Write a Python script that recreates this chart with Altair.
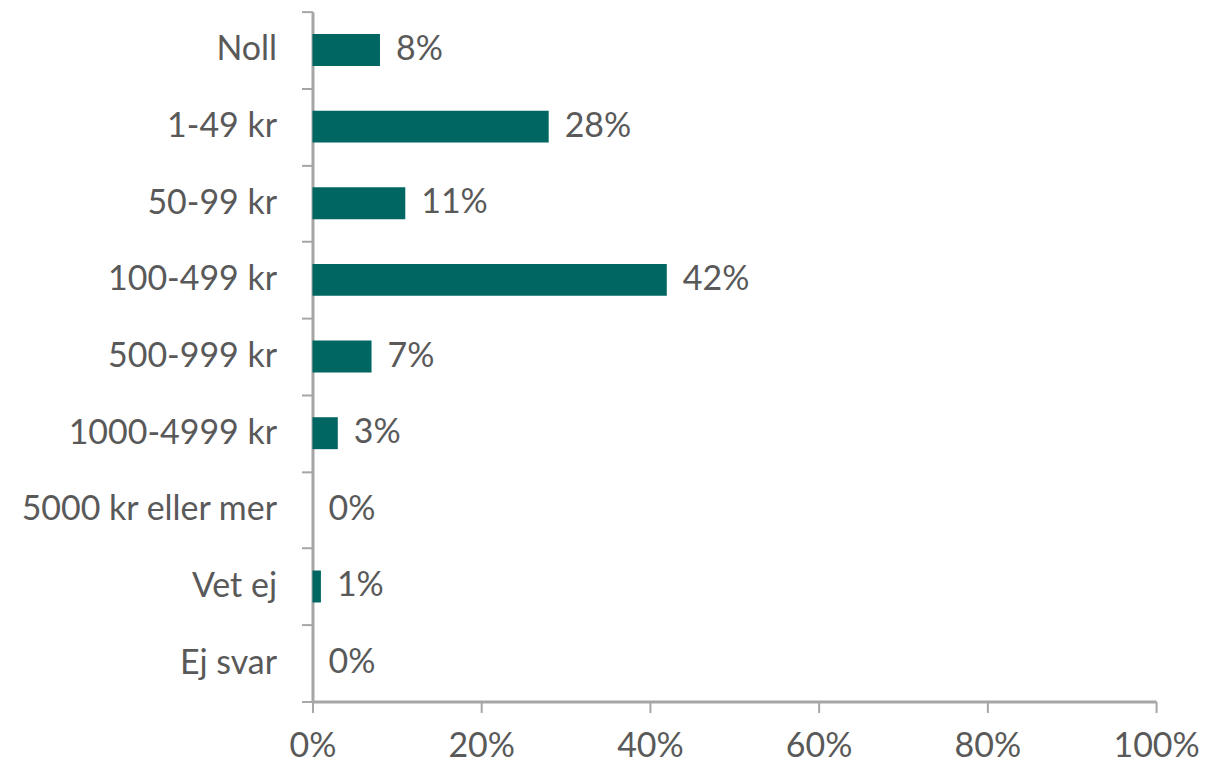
import altair as alt
import pandas as pd

categories = ["Noll", "1-49 kr", "50-99 kr", "100-499 kr", "500-999 kr",
              "1000-4999 kr", "5000 kr eller mer", "Vet ej", "Ej svar"]
values = [0.08, 0.28, 0.11, 0.42, 0.07, 0.03, 0.0, 0.01, 0.0]
labels = ["8%", "28%", "11%", "42%", "7%", "3%", "0%", "1%", "0%"]

df = pd.DataFrame({"cat": categories, "val": values, "lab": labels})

FONT = "Lato"
GREY = "#595959"
AX = "#a6a6a6"
FS = 34

y = alt.Y("cat:N", sort=categories, title=None,
          scale=alt.Scale(paddingInner=0, paddingOuter=0),
          axis=alt.Axis(tickBand="extent", labelFontSize=FS, labelFont=FONT,
                        labelColor=GREY, domainColor=AX, tickColor=AX, labelLimit=400,
                        domainWidth=3, tickWidth=2, tickSize=11, labelPadding=25))
x = alt.X("val:Q", title=None,
          scale=alt.Scale(domain=[0, 1], nice=False),
          axis=alt.Axis(format=".0%", values=[0, 0.2, 0.4, 0.6, 0.8, 1.0],
                        labelFontSize=FS, labelFont=FONT, labelColor=GREY,
                        labelFlush=False,
                        domainColor=AX, tickColor=AX, domainWidth=3, tickWidth=2,
                        tickSize=11, labelPadding=17, grid=False))

bars = alt.Chart(df).mark_bar(color="#006661", size=32).encode(x=x, y=y)
text = alt.Chart(df).mark_text(align="left", dx=16, fontSize=FS, font=FONT,
                               color=GREY).encode(x="val:Q", y=alt.Y("cat:N", sort=categories), text="lab:N")

chart = (bars + text).properties(
    width=845, height=691,
    padding={"top": -14, "left": 11, "right": 0, "bottom": 0}
).configure_view(stroke=None)

chart.save("out.html", embed_options={"renderer": "svg", "actions": False})
